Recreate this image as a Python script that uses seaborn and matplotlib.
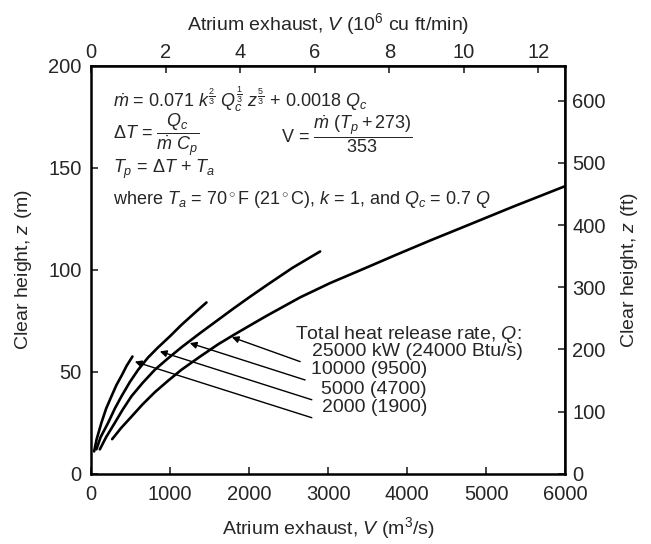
import numpy as np
import pandas as pd
import matplotlib
matplotlib.use('Agg')
import matplotlib.pyplot as plt
import seaborn as sns

# curves: exhaust V (m3/s) vs clear height z (m)
v_2000 = [38, 70, 130, 190, 257, 320, 384, 450, 523]
z_2000 = [11, 17, 25, 32, 38, 43.5, 48, 53, 57.5]
v_5000 = [67, 120, 215, 300, 384, 490, 595, 720, 848, 1000, 1143, 1300, 1460]
z_5000 = [12, 18, 25, 32, 38, 45, 51, 57, 62, 67.5, 73, 78.5, 84]
v_10000 = [110, 190, 300, 400, 510, 650, 806, 970, 1143, 1380, 1608, 1801, 2000, 2224, 2550, 2899]
z_10000 = [12, 18, 25, 31.5, 38, 44.5, 51, 56.5, 62, 69, 75.5, 81, 86.5, 92.5, 101, 109]
v_25000 = [266, 380, 510, 650, 806, 970, 1143, 1380, 1608, 1801, 2000, 2224, 2646,
           3025, 3450, 3870, 4300, 4713, 5345, 6000]
z_25000 = [17, 22.5, 28, 34, 40, 45.5, 51, 57.5, 63.5, 68, 72.5, 77.5, 86.5,
           93.5, 100.5, 107.5, 114.5, 121, 131, 141]

q_labels = ['2000 (1900)', '5000 (4700)', '10000 (9500)', '25000 kW (24000 Btu/s)']
# arrow tips on curves and leader starts (data units)
tips = [(553, 55), (870, 60), (1249, 64.1), (1781, 67.0)]
tails = [(2794, 27.5), (2794, 36.3), (2709, 46), (2646, 55.0)]
label_pos = [(4253, 32.4), (4253, 41.5), (4253, 51), (2794, 59.8)]

frames = []
for name, v, z in [('2000', v_2000, z_2000), ('5000', v_5000, z_5000),
                   ('10000', v_10000, z_10000), ('25000', v_25000, z_25000)]:
    frames.append(pd.DataFrame({'V': v, 'z': z, 'Q': name}))
df = pd.concat(frames, ignore_index=True)

sns.set_theme(style='ticks')
plt.rcParams['font.family'] = ['Liberation Sans', 'DejaVu Sans']
plt.rcParams['mathtext.fontset'] = 'custom'
plt.rcParams['mathtext.rm'] = 'Liberation Sans'
plt.rcParams['mathtext.it'] = 'Liberation Sans:italic'
plt.rcParams['mathtext.bf'] = 'Liberation Sans:bold'

fig = plt.figure(figsize=(6.51, 5.44), dpi=100)
ax = fig.add_axes([0.140, 0.129, 0.728, 0.750])

sns.lineplot(data=df, x='V', y='z', hue='Q', units='Q', estimator=None, sort=False,
             palette=['black'] * 4, linewidth=1.9, legend=False, ax=ax)

lab_fs = 14
tick_fs = 14.5
ax.set_xlim(0, 6000)
ax.set_ylim(0, 200)
ax.set_xticks(range(0, 6001, 1000))
ax.set_yticks([0, 50, 100, 150, 200])
ax.set_xlabel('Atrium exhaust, $V$ (m$^3$/s)', fontsize=lab_fs, labelpad=8)
ax.set_ylabel('Clear height, $z$ (m)', fontsize=lab_fs, labelpad=10)
ax.tick_params(axis='x', direction='in', length=5, width=1.2, labelsize=tick_fs, pad=8)
ax.tick_params(axis='y', direction='in', length=5, width=1.2, labelsize=tick_fs, pad=7)
for s in ax.spines.values():
    s.set_linewidth(1.8)
    s.set_color('black')

cfm = 0.00211888
top = ax.secondary_xaxis('top', functions=(lambda x: x * cfm, lambda x: x / cfm))
top.set_xticks(range(0, 13, 2))
top.set_xlabel('Atrium exhaust, $V$ (10$^6$ cu ft/min)', fontsize=lab_fs, labelpad=9)
top.tick_params(direction='in', length=5, width=1.2, labelsize=tick_fs, pad=3)

ft = 3.28084
right = ax.secondary_yaxis('right', functions=(lambda y: y * ft, lambda y: y / ft))
right.set_yticks(range(0, 601, 100))
right.set_ylabel('Clear height, $z$ (ft)', fontsize=lab_fs, labelpad=10)
right.tick_params(direction='in', length=5, width=1.2, labelsize=tick_fs, pad=5)

# equations
fs = 13
ax.text(0.046, 0.918, r'$\dot{m}$ = 0.071 $k^{\frac{2}{3}}\ Q_c^{\frac{1}{3}}\ z^{\frac{5}{3}}$ + 0.0018 $Q_c$',
        transform=ax.transAxes, fontsize=fs, va='center', ha='left')
ax.text(0.046, 0.832, r'$\Delta T$ = $\dfrac{Q_c}{\dot{m}\ C_p}$',
        transform=ax.transAxes, fontsize=fs, va='center', ha='left')
ax.text(0.40, 0.832, r'V = $\dfrac{\dot{m}\ (T_p + 273)}{353}$',
        transform=ax.transAxes, fontsize=fs, va='center', ha='left')
ax.text(0.046, 0.745, r'$T_p$ = $\Delta T$ + $T_a$',
        transform=ax.transAxes, fontsize=fs, va='center', ha='left')
ax.text(0.046, 0.672, r'where $T_a$ = 70$^\circ$F (21$^\circ$C), $k$ = 1, and $Q_c$ = 0.7 $Q$',
        transform=ax.transAxes, fontsize=fs, va='center', ha='left')

# legend-like labels with leader arrows
ax.text(2582, 68.5, 'Total heat release rate, $Q$:', fontsize=lab_fs, va='center', ha='left')
for i, lab in enumerate(q_labels):
    x, y = label_pos[i]
    ax.text(x, y, lab, fontsize=lab_fs, va='center', ha='right' if i < 3 else 'left')
    ax.annotate('', xy=tips[i], xytext=tails[i],
                arrowprops=dict(arrowstyle='-|>', color='black', lw=1.0,
                                mutation_scale=10, shrinkA=0, shrinkB=0))

fig.savefig('out.png', dpi=100)
